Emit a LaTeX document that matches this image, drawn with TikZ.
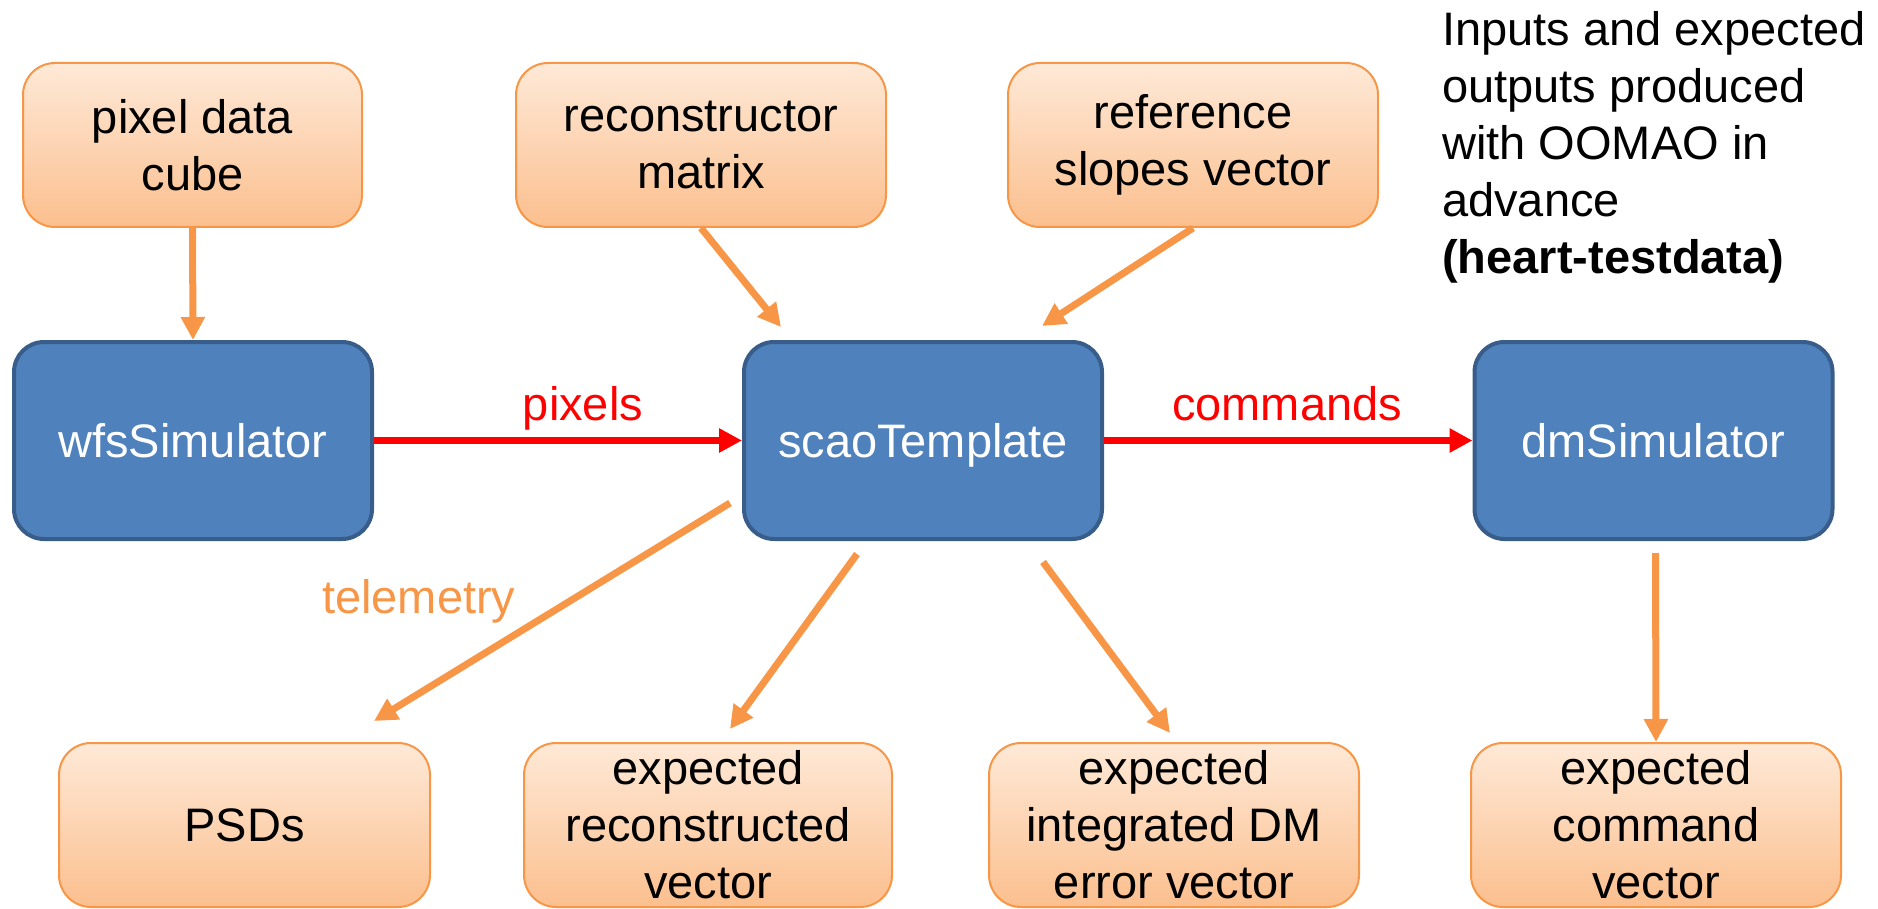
\documentclass[tikz,border=0pt]{standalone}
\usepackage{fontspec}
\setmainfont{Liberation Sans}
\usetikzlibrary{arrows.meta,calc}
\definecolor{bfill}{HTML}{4F81BD}
\definecolor{bdraw}{HTML}{385D8A}
\definecolor{oline}{HTML}{F79646}
\definecolor{otop}{RGB}{254,233,215}
\definecolor{obot}{RGB}{251,191,142}
\definecolor{cred}{HTML}{FF0000}
\tikzset{
  bluebox/.style={draw=bdraw, line width=4pt, fill=bfill, rounded corners=30pt,
    minimum width=358pt, minimum height=197pt, text=white, inner sep=0pt,
    text height=34pt, text depth=0pt,
    font=\fontsize{47}{57}\selectfont},
  orbox/.style={draw=oline, line width=2pt, top color=otop, bottom color=obot,
    rounded corners=32pt, minimum height=164pt, inner sep=0pt, align=center,
    font=\fontsize{47}{57}\selectfont},
  oarrow/.style={draw=oline, line width=7pt, -{Triangle[length=23pt,width=23pt]}},
  rarrow/.style={draw=cred, line width=7pt, -{Triangle[length=23pt,width=23pt]}},
  lbl/.style={font=\fontsize{47}{57}\selectfont, inner sep=0pt},
}
\begin{document}
\begin{tikzpicture}[x=1pt,y=-1pt]
\useasboundingbox (0,0) rectangle (1878,909);
% top inputs
\node[orbox, minimum width=339pt] (pix) at (192.5,145) {pixel data\\cube};
\node[orbox, minimum width=370pt] (recon) at (701,145) {reconstructor\\matrix};
\node[orbox, minimum width=370pt] (ref) at (1193,145) {reference\\slopes vector};
% blue modules
\node[bluebox] (wfs) at (193,440.5) {wfsSimulator};
\node[bluebox] (scao) at (923,440.5) {scaoTemplate};
\node[bluebox] (dm) at (1653.5,440.5) {dmSimulator};
% bottom outputs
\node[orbox, minimum width=371pt] (psd) at (244.5,825) {PSDs};
\node[orbox, minimum width=368pt] (erec) at (708,825) {expected\\reconstructed\\vector};
\node[orbox, minimum width=370pt] (eint) at (1174,825) {expected\\integrated DM\\error vector};
\node[orbox, minimum width=370pt] (ecmd) at (1656,825) {expected\\command\\vector};
% side note
\node[lbl, anchor=north west, align=left] (note) at (1442,11)
  {Inputs and expected\\outputs produced\\with OOMAO in\\advance\\\textbf{(heart-testdata)}};
% connectors
\draw[oarrow] (pix.south) -- (wfs.north);
\draw[oarrow] (recon.south) -- ($(scao.north west)+(39,-13)$);
\draw[oarrow] (ref.south) -- ($(scao.north east)+(-62,-14)$);
\draw[rarrow] (wfs.east) -- (scao.west);
\draw[rarrow] (scao.east) -- (dm.west);
\draw[oarrow] ($(scao.south west)+(-12,-38)$) -- ($(psd.north east)+(-57,-21)$);
\draw[oarrow] ($(scao.south)+(-66,13)$) -- ($(erec.north)+(22,-13)$);
\draw[oarrow] ($(scao.south)+(120,21)$) -- ($(eint.north)+(-4,-9)$);
\draw[oarrow] ($(dm.south)+(2,12)$) -- (ecmd.north);
% labels
\node[lbl, text=cred, anchor=base] (lpix) at (583,420) {pixels};
\node[lbl, text=cred, anchor=base] (lcmd) at (1287,420) {commands};
\node[lbl, text=oline, anchor=base west] (ltel) at (322,613) {telemetry};
\end{tikzpicture}
\end{document}
